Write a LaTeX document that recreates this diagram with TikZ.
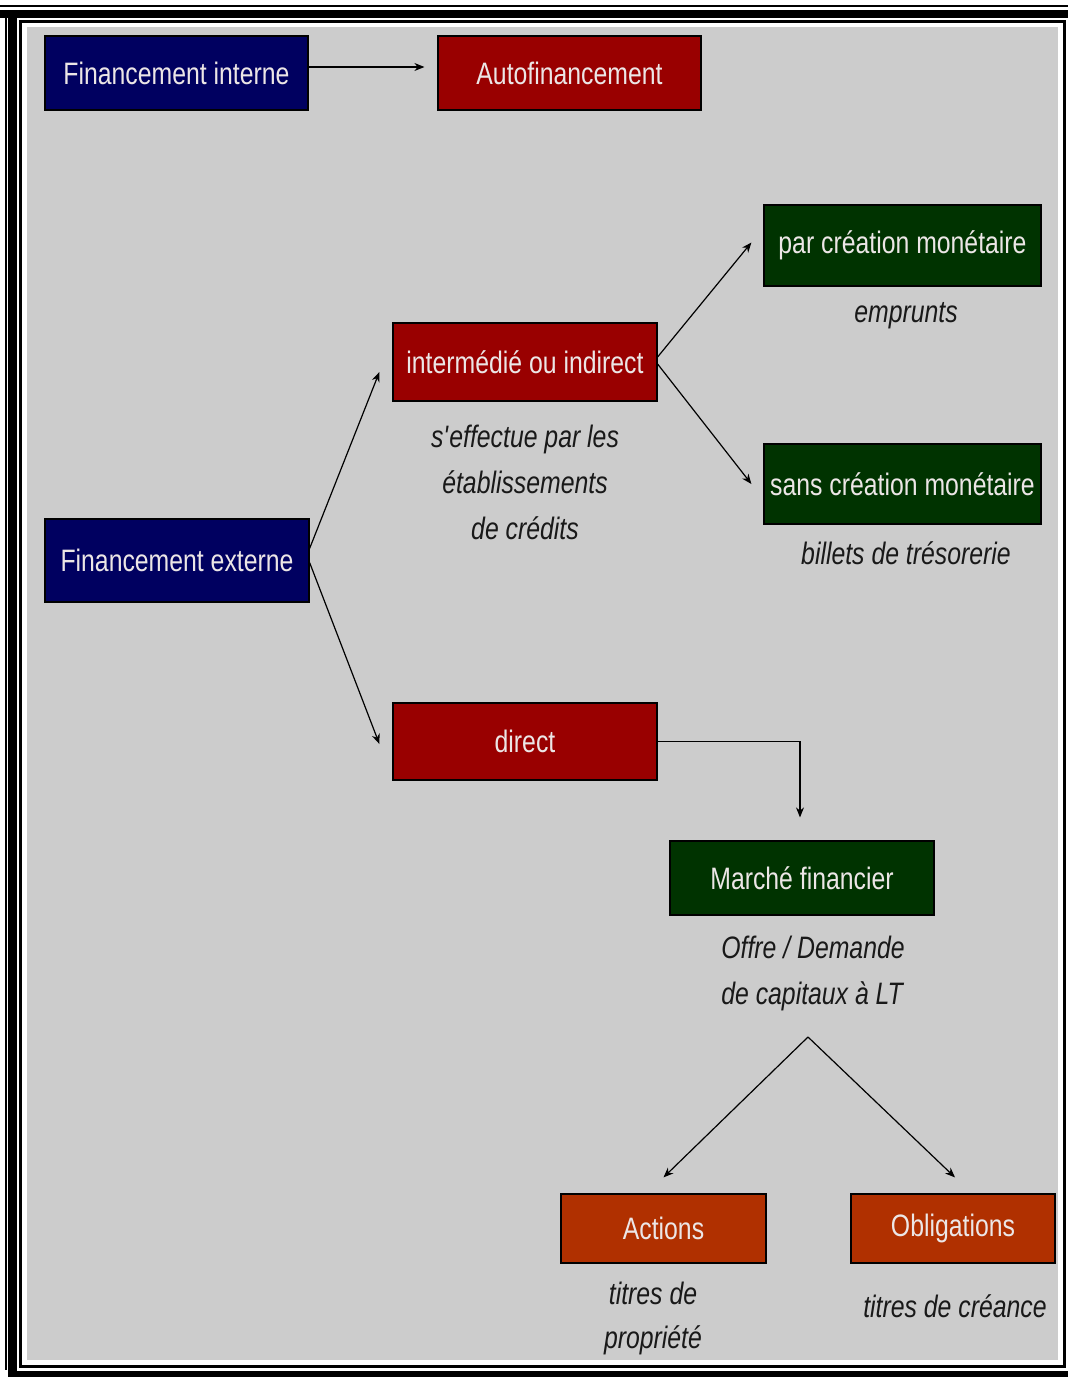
\documentclass[tikz,border=0pt]{standalone}
\usepackage{fontspec}
\setmainfont{Liberation Sans}[FakeStretch=0.8]
\usetikzlibrary{arrows.meta, positioning}
\definecolor{fondgris}{RGB}{204,204,204}
\definecolor{bleufonce}{RGB}{0,0,96}
\definecolor{rougefonce}{RGB}{153,0,0}
\definecolor{vertfonce}{RGB}{0,51,0}
\definecolor{orangefonce}{RGB}{176,48,0}
\definecolor{textebox}{RGB}{236,230,230}
\newcommand{\policebase}{\fontsize{31}{46}\selectfont}
\tikzstyle{boite} = [rectangle, draw=black, line width=1.2pt, text=textebox, text centered, inner sep=0pt]
\tikzstyle{bleu}   = [boite, fill=bleufonce, minimum width=263pt]
\tikzstyle{rouge}  = [boite, fill=rougefonce, minimum width=264pt]
\tikzstyle{vert}   = [boite, fill=vertfonce]
\tikzstyle{titre}  = [boite, fill=orangefonce, minimum width=205pt, minimum height=69pt]
\tikzstyle{note}   = [font=\policebase\itshape, text=black!90, align=center, inner sep=0pt]
\tikzstyle{arrow}  = [line width=1.2pt, -{Stealth[length=10pt,width=8pt]}]

\begin{document}
\begin{tikzpicture}[x=1pt, y=-1pt, font=\policebase]
% cadre
\useasboundingbox (0,0) rectangle (1068,1377);
\fill[white] (0,0) rectangle (1068,1377);
\fill[black] (0,5) rectangle (1068,7);
\fill[black] (0,10) rectangle (1068,18);
\fill[black] (5,18) rectangle (7,1370);
\fill[black] (8,18) rectangle (17,1377);
\draw[black, line width=3pt] (20.5,21) rectangle (1064.5,1366.5);
\fill[black] (8,1371) rectangle (1068,1377);
\fill[fondgris] (27,27) rectangle (1058,1360);

% boites
\node (finint)   [bleu, minimum height=74pt] at (176.5,73) {Financement interne};
\node (autofin)  [rouge, minimum width=263pt, minimum height=74pt] at (569.5,73) {Autofinancement};
\node (intermed) [rouge, minimum height=78pt] at (525,362) {intermédié ou indirect};
\node (parcrea)  [vert, minimum width=277pt, minimum height=81pt] at (902.5,245.5) {par création monétaire};
\node (sanscrea) [vert, minimum width=277pt, minimum height=80pt] at (902.5,484) {sans création monétaire};
\node (finext)   [bleu, minimum width=264pt, minimum height=83pt] at (177,560.5) {Financement externe};
\node (direct)   [rouge, minimum height=77pt] at (525,741.5) {direct};
\node (marche)   [vert, minimum width=264pt, minimum height=74pt] at (802,878) {Marché financier};
\node (actions)  [titre] at (663.5,1228.5) {Actions};
\node (oblig)    [titre, minimum width=204pt] at (953,1228.5) {Obligations};

% commentaires
\node (emprunts) [note] at (906,316) {emprunts};
\node (effectue) [note] at (525,482) {s\textquotesingle effectue par les\\établissements\\de crédits};
\node (billets)  [note] at (906,553) {billets de trésorerie};
\node (offre)    [note, align=left] at (813,973) {Offre / Demande\\de capitaux à LT};
\node (propr)    [note] at (653,1318) {titres de\\[-2pt]propriété};
\node (creance)  [note] at (955,1306) {titres de créance};
\coordinate (apex) at (808,1037);

% fleches
\draw [arrow] ([yshift=6pt]finint.east) -- ([xshift=-13pt,yshift=6pt]autofin.west);
\draw [arrow] ([yshift=12pt]finext.east) -- ([xshift=-13pt,yshift=-10pt]intermed.west);
\draw [arrow] ([yshift=-2pt]finext.east) -- ([xshift=-13pt,yshift=-2.5pt]direct.west);
\draw [arrow] ([yshift=5pt]intermed.east) -- ([xshift=-12pt,yshift=3pt]parcrea.west);
\draw [arrow] ([yshift=-2pt]intermed.east) -- ([xshift=-12pt]sanscrea.west);
\draw [arrow] (direct.east) -| ([xshift=-2pt,yshift=23pt]marche.north);
\draw [arrow] (apex) -- ([yshift=16pt]actions.north);
\draw [arrow] (apex) -- ([xshift=2pt,yshift=16pt]oblig.north);
\end{tikzpicture}
\end{document}
